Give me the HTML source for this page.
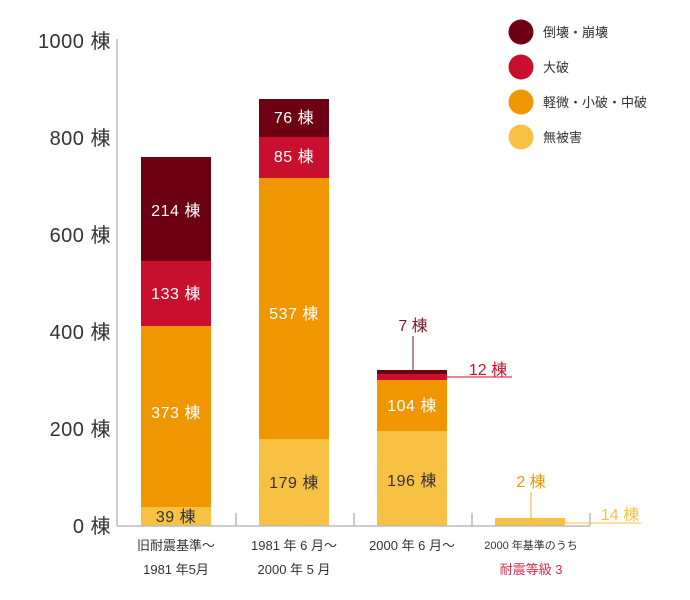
<!DOCTYPE html>
<html><head><meta charset="utf-8"><style>
html,body{margin:0;padding:0;background:#fff}
svg{display:block;font-family:"Liberation Sans","Noto Sans CJK JP",sans-serif}
</style></head><body>
<svg width="690" height="600" viewBox="0 0 690 600" xmlns="http://www.w3.org/2000/svg">
<g fill="#333" font-size="20" text-anchor="end" letter-spacing="0.5">
<text x="111" y="48">1000 棟</text>
<text x="111" y="145">800 棟</text>
<text x="111" y="242">600 棟</text>
<text x="111" y="339">400 棟</text>
<text x="111" y="436">200 棟</text>
<text x="111" y="533">0 棟</text>
</g>
<line x1="117" y1="39" x2="117" y2="526" stroke="#bbb" stroke-width="1.5"/>
<rect x="141" y="507" width="70" height="19" fill="#f7c143"/>
<rect x="141" y="326" width="70" height="181" fill="#f09600"/>
<rect x="141" y="261" width="70" height="65" fill="#c8102e"/>
<rect x="141" y="157" width="70" height="104" fill="#6e0014"/>
<rect x="259" y="439" width="70" height="87" fill="#f7c143"/>
<rect x="259" y="178" width="70" height="261" fill="#f09600"/>
<rect x="259" y="137" width="70" height="41" fill="#c8102e"/>
<rect x="259" y="99" width="70" height="38" fill="#6e0014"/>
<rect x="377" y="431" width="70" height="95" fill="#f7c143"/>
<rect x="377" y="380" width="70" height="51" fill="#f09600"/>
<rect x="377" y="374" width="70" height="6" fill="#c8102e"/>
<rect x="377" y="370" width="70" height="4" fill="#6e0014"/>
<rect x="495" y="518" width="70" height="8" fill="#f7c143"/>
<g stroke="#bbb" stroke-width="1.5">
<line x1="117" y1="526" x2="590" y2="526"/>
<line x1="236" y1="513" x2="236" y2="526"/>
<line x1="354" y1="513" x2="354" y2="526"/>
<line x1="472" y1="513" x2="472" y2="526"/>
<line x1="590" y1="513" x2="590" y2="526"/>
</g>
<g font-size="16" text-anchor="middle" fill="#fff" letter-spacing="0.5">
<text x="176" y="216">214 棟</text>
<text x="176" y="299">133 棟</text>
<text x="176" y="418">373 棟</text>
<text x="176" y="522" fill="#333">39 棟</text>
<text x="294" y="123">76 棟</text>
<text x="294" y="162">85 棟</text>
<text x="294" y="319">537 棟</text>
<text x="294" y="488" fill="#333">179 棟</text>
<text x="412" y="411">104 棟</text>
<text x="412" y="486" fill="#333">196 棟</text>
</g>
<line x1="413" y1="336" x2="413" y2="370" stroke="#7a1a2a" stroke-width="1"/>
<text x="413" y="331" font-size="16" fill="#7a1a2a" text-anchor="middle">7 棟</text>
<line x1="447" y1="377" x2="512" y2="377" stroke="#c8102e" stroke-width="1"/>
<text x="488" y="375" font-size="16" fill="#c8102e" text-anchor="middle">12 棟</text>
<line x1="531" y1="492" x2="531" y2="518" stroke="#f7b030" stroke-width="1"/>
<text x="531" y="487" font-size="16" fill="#f09600" text-anchor="middle">2 棟</text>
<line x1="565" y1="523" x2="641" y2="523" stroke="#f7c143" stroke-width="1"/>
<text x="620" y="520" font-size="16" fill="#f7c143" text-anchor="middle">14 棟</text>
<g font-size="13" fill="#333" text-anchor="middle">
<text x="176" y="550">旧耐震基準～</text>
<text x="176" y="574">1981 年5月</text>
<text x="294" y="550">1981 年 6 月～</text>
<text x="294" y="574">2000 年 5 月</text>
<text x="412" y="550">2000 年 6 月～</text>
<text x="531" y="549" font-size="11">2000 年基準のうち</text>
<text x="531" y="574" fill="#d0304a">耐震等級 3</text>
</g>
<circle cx="521" cy="32" r="12.5" fill="#6e0014"/>
<circle cx="521" cy="67" r="12.5" fill="#c8102e"/>
<circle cx="521" cy="102" r="12.5" fill="#f09600"/>
<circle cx="521" cy="137" r="12.5" fill="#f7c143"/>
<g font-size="13" fill="#333">
<text x="543" y="37">倒壊・崩壊</text>
<text x="543" y="72">大破</text>
<text x="543" y="107">軽微・小破・中破</text>
<text x="543" y="142">無被害</text>
</g>
</svg>
</body></html>
